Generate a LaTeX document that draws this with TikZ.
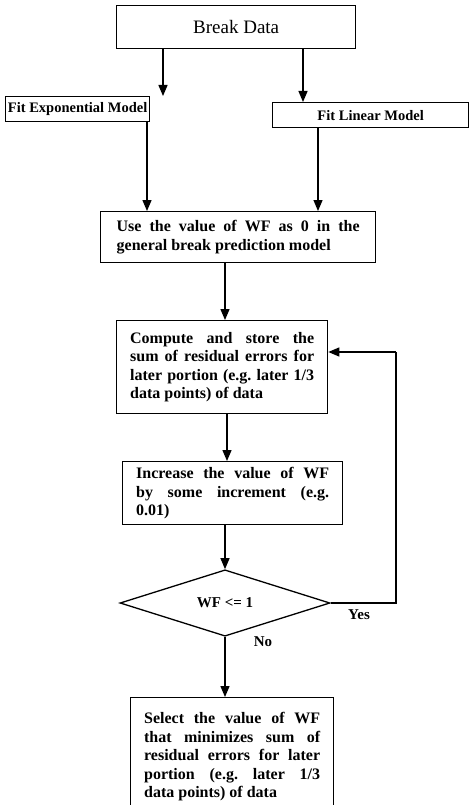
\documentclass[tikz,border=0pt]{standalone}
\usepackage{fontspec}
\setmainfont{Liberation Serif}
\usetikzlibrary{arrows.meta,shapes.geometric}
\begin{document}
\begin{tikzpicture}[x=1pt,y=-1pt,
  line width=1.3pt,
  box/.style={draw, line width=1.3pt, anchor=north west, inner xsep=13.5pt, inner ysep=2pt,
    align=justify, font=\bfseries\frenchspacing\fontsize{16}{18.5}\selectfont},
  fitbox/.style={draw, line width=1.3pt, anchor=north west, inner sep=0pt,
    font=\bfseries\fontsize{14.5}{16}\selectfont},
  arr/.style={-{Triangle[length=11pt,width=9pt]}, line width=1.3pt},
  lbl/.style={font=\bfseries\fontsize{15}{17}\selectfont, inner sep=0pt}
]
\useasboundingbox (0,0) rectangle (469,805);
\hyphenpenalty=10000
% Break data
\node[draw, line width=1.3pt, anchor=north west, minimum width=239pt, minimum height=43pt, inner sep=0pt,
  font=\fontsize{19}{22}\selectfont] (bd) at (116,5) {Break Data};
% Fit boxes
\node[fitbox, minimum width=144pt, minimum height=25pt] (fe) at (5,96) {Fit Exponential Model};
\node[fitbox, minimum width=196pt, minimum height=25pt] (fl) at (272,102) {Fit Linear Model};
% Use box
\node[box, text width=243pt, inner xsep=16pt, minimum height=51pt] (use) at (100,211)
  {Use the value of WF as 0 in the\linebreak general break prediction model};
% Compute box
\node[box, text width=184pt, minimum height=93pt] (comp) at (116,320)
  {Compute and store the\linebreak sum of residual errors for\linebreak later portion (e.g. later 1/3\linebreak data points) of data};
% Increase box
\node[box, text width=193pt, minimum height=63pt] (inc) at (122,461)
  {Increase the value of WF\linebreak by some increment (e.g.\linebreak 0.01)};
% Diamond
\node[diamond, draw, line width=1.3pt, inner sep=0pt, minimum width=210pt, minimum height=59pt,
  font=\bfseries\fontsize{15}{17}\selectfont] (dec) at (225,603) {\raisebox{-4pt}{WF <= 1}};
% Select box
\node[box, text width=176pt, minimum height=118pt] (sel) at (130,697)
  {Select the value of WF\linebreak that minimizes sum of\linebreak residual errors for later\linebreak portion (e.g. later 1/3\linebreak data points) of data};
% x positions of vertical connectors and loop corners
\coordinate (xa) at (163,0);
\coordinate (xb) at (303,0);
\coordinate (xc) at (147,0);
\coordinate (xd) at (318,0);
\coordinate (xe) at (225,0);
\coordinate (xf) at (227,0);
\coordinate (c1) at (396,603);
\coordinate (c2) at (396,352);
% connectors
\draw[arr] (bd.south -| xa) -- (fe.north -| xa);
\draw[arr] (bd.south -| xb) -- (fl.north -| xb);
\draw[arr] (fe.south -| xc) -- (use.north -| xc);
\draw[arr] (fl.south -| xd) -- (use.north -| xd);
\draw[arr] (use.south -| xe) -- (comp.north -| xe);
\draw[arr] (comp.south -| xf) -- (inc.north -| xf);
\draw[arr] (inc.south -| dec.north) -- (dec.north);
\draw (dec.east) -- (c1) -- (c2);
\draw[arr] (c2) -- (comp.east |- c2);
\draw[arr] (dec.south) -- (sel.north -| dec.south);
\node[lbl] (yes) at (359,615) {Yes};
\node[lbl] (no) at (263,642) {No};
\end{tikzpicture}
\end{document}
